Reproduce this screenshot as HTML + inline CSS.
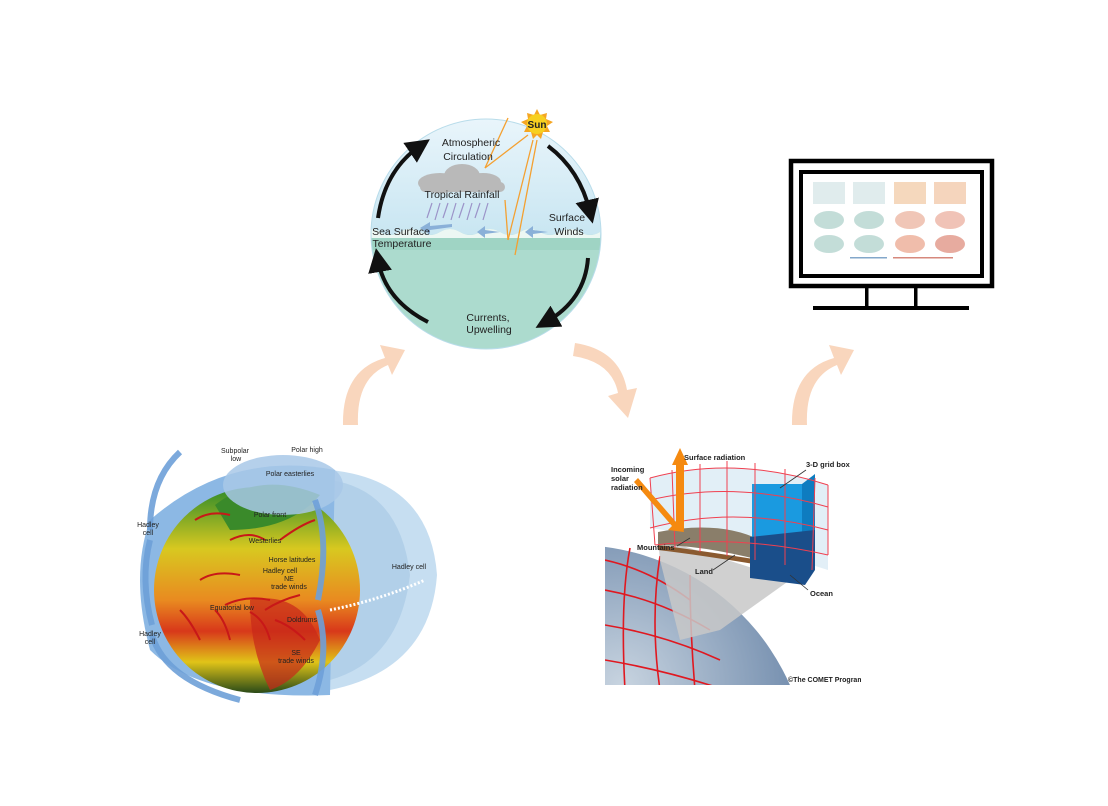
<!DOCTYPE html>
<html><head><meta charset="utf-8"><style>
html,body{margin:0;padding:0;background:#fff;overflow:hidden;width:1108px;height:806px;}
svg{display:block;font-family:"Liberation Sans",sans-serif;}
</style></head><body>
<svg width="1108" height="806" viewBox="0 0 1108 806" xmlns="http://www.w3.org/2000/svg">
<defs>
<linearGradient id="sky" x1="0" y1="0" x2="0" y2="1">
<stop offset="0" stop-color="#e9f5fb"/><stop offset="0.5" stop-color="#c9e6f2"/>
<stop offset="0.52" stop-color="#a8d8cc"/><stop offset="1" stop-color="#d2ece9"/></linearGradient>
<linearGradient id="gl" x1="0" y1="0" x2="0" y2="1">
<stop offset="0" stop-color="#2d8a2a"/><stop offset="0.3" stop-color="#d8c820"/><stop offset="0.55" stop-color="#e98a20"/><stop offset="0.7" stop-color="#d8381a"/><stop offset="0.85" stop-color="#e0c418"/><stop offset="1" stop-color="#2a4a18"/></linearGradient>
<radialGradient id="earth" cx="0.6" cy="0.3" r="0.8">
<stop offset="0" stop-color="#c8d4e0"/><stop offset="0.6" stop-color="#5c7aa0"/><stop offset="1" stop-color="#1a3a8a"/></radialGradient>
<marker id="ah" markerWidth="6" markerHeight="6" refX="3" refY="3" orient="auto"><path d="M0,0L6,3L0,6z" fill="#111"/></marker>
<clipPath id="circ"><circle cx="486" cy="234" r="115"/></clipPath>
<clipPath id="rimg"><rect x="605" y="445" width="256" height="240"/></clipPath>
</defs>

<g fill="#f9d6bd">
<path d="M343,425 Q342,370 385,358 L380,345 L405,350 L392,375 L388,365 Q356,378 358,425 Z"/>
<path d="M575,343 Q620,350 627,390 L637,388 L628,418 L608,396 L618,393 Q612,362 573,356 Z"/>
<path d="M792,425 Q791,370 834,358 L829,345 L854,350 L841,375 L837,365 Q805,378 807,425 Z"/>
</g>

<circle cx="486" cy="234" r="115" fill="url(#sky)"/>
<g clip-path="url(#circ)">
<path d="M360,232 q10,-6 20,0 q10,6 20,0 q10,-6 20,0 q10,6 20,0 q10,-6 20,0 q10,6 20,0 q10,-6 20,0 q10,6 20,0 q10,-6 20,0 q10,6 20,0 q10,-6 20,0 q10,6 20,0 V360 H360Z" fill="#9fd4c4"/>
<path d="M360,232 q10,-6 20,0 q10,6 20,0 q10,-6 20,0 q10,6 20,0 q10,-6 20,0 q10,6 20,0 q10,-6 20,0 q10,6 20,0 q10,-6 20,0 q10,6 20,0 q10,-6 20,0 q10,6 20,0 V238 H360Z" fill="#fff" opacity="0.8"/>
<rect x="360" y="250" width="260" height="110" fill="#b5e0d6" opacity="0.6"/>
</g>
<circle cx="486" cy="234" r="115" fill="none" stroke="#b8dcea" stroke-width="1"/>
<g fill="#b9b9b9"><ellipse cx="440" cy="183" rx="22" ry="10"/><ellipse cx="462" cy="176" rx="18" ry="12"/><ellipse cx="483" cy="182" rx="18" ry="9"/><rect x="420" y="182" width="85" height="10" rx="5"/></g>
<g stroke="#9b93c8" stroke-width="1.2">
<line x1="427" y1="218" x2="432" y2="203"/><line x1="435" y1="220" x2="440" y2="203"/><line x1="443" y1="218" x2="448" y2="203"/><line x1="451" y1="220" x2="456" y2="203"/><line x1="459" y1="218" x2="464" y2="203"/><line x1="467" y1="220" x2="472" y2="203"/><line x1="475" y1="218" x2="480" y2="203"/><line x1="483" y1="220" x2="488" y2="203"/></g>
<g fill="#8ab0d8"><path d="M420,229 l22,-3 v-4 l10,6 -10,6 v-4 l-22,2z" transform="rotate(180 436 228)"/><path d="M480,232 l15,-2 v-4 l8,6 -8,6 v-4 z" transform="rotate(180 490 232)"/><path d="M528,232 l15,-2 v-4 l8,6 -8,6 v-4 z" transform="rotate(180 538 232)"/></g>
<g stroke="#f4a030" stroke-width="1.3" fill="none">
<line x1="528" y1="135" x2="485" y2="168"/><line x1="485" y1="168" x2="508" y2="118"/>
<line x1="533" y1="140" x2="508" y2="240"/><line x1="508" y1="240" x2="505" y2="200"/>
<line x1="537" y1="140" x2="515" y2="255"/></g>
<g fill="#f5a623"><polygon points="537,109 540,115 547,113 546,119 553,122 547,126 550,132 543,132 541,139 537,135 533,139 531,132 524,132 527,126 521,122 528,119 527,113 534,115"/></g>
<circle cx="537" cy="124" r="10" fill="#f7d020"/>
<text x="537" y="128" font-size="10" font-weight="bold" text-anchor="middle" fill="#222">Sun</text>
<g stroke="#111" stroke-width="4" fill="none" marker-end="url(#ah)">
<path d="M378,218 Q385,170 420,146"/>
<path d="M548,146 Q580,170 590,212"/>
<path d="M588,258 Q585,300 546,322"/>
<path d="M428,322 Q385,300 378,260"/></g>
<g font-size="10.5" fill="#222" text-anchor="middle">
<text x="471" y="146">Atmospheric</text><text x="468" y="160">Circulation</text>
<text x="462" y="198">Tropical Rainfall</text>
<text x="567" y="221">Surface</text><text x="569" y="235">Winds</text>
<text x="401" y="235">Sea Surface</text><text x="402" y="247">Temperature</text>
<text x="488" y="321">Currents,</text><text x="489" y="333">Upwelling</text></g>

<rect x="791" y="161" width="201" height="125" fill="none" stroke="#000" stroke-width="4.5"/>
<rect x="801" y="172" width="181" height="104" fill="#fff" stroke="#000" stroke-width="4"/>
<g opacity="0.75">
<rect x="813" y="182" width="32" height="22" fill="#d6e6e8"/><rect x="853" y="182" width="32" height="22" fill="#d6e6e8"/>
<rect x="894" y="182" width="32" height="22" fill="#f2cca8"/><rect x="934" y="182" width="32" height="22" fill="#f2c8a8"/>
<ellipse cx="829" cy="220" rx="15" ry="9" fill="#b0d2cc"/><ellipse cx="869" cy="220" rx="15" ry="9" fill="#b0d2cc"/>
<ellipse cx="910" cy="220" rx="15" ry="9" fill="#ecb4a0"/><ellipse cx="950" cy="220" rx="15" ry="9" fill="#ecb0a0"/>
<ellipse cx="829" cy="244" rx="15" ry="9" fill="#b0d2cc"/><ellipse cx="869" cy="244" rx="15" ry="9" fill="#b0d2cc"/>
<ellipse cx="910" cy="244" rx="15" ry="9" fill="#eca890"/><ellipse cx="950" cy="244" rx="15" ry="9" fill="#e09080"/>
<rect x="850" y="257" width="37" height="1.5" fill="#5a8ab8"/><rect x="893" y="257" width="60" height="1.5" fill="#c86050"/></g>
<rect x="865" y="286" width="3.5" height="22" fill="#000"/><rect x="914" y="286" width="3.5" height="22" fill="#000"/>
<rect x="813" y="306" width="156" height="4" fill="#000"/>

<g>
<path d="M330,470 Q430,480 437,575 Q430,670 330,690 Z" fill="#bcd8ee" opacity="0.85"/>
<path d="M330,480 Q400,490 410,575 Q400,660 330,680Z" fill="#a9cae6" opacity="0.7"/>
<path d="M150,520 Q130,575 150,650 Q200,700 330,695 L335,470 Q230,450 150,520Z" fill="#8cb8e4"/>
<circle cx="257" cy="590" r="103" fill="url(#gl)"/>
<path d="M215,505 Q260,470 320,495 Q290,530 230,530Z" fill="#3a8a2a"/>
<path d="M250,600 Q300,590 320,640 Q300,680 270,690 Q250,650 250,600Z" fill="#c8281a" opacity="0.7"/>
<ellipse cx="283" cy="485" rx="60" ry="30" fill="#a8c8e8" opacity="0.85"/>
<g fill="none" stroke="#6ea0d8" stroke-width="6" opacity="0.9">
<path d="M180,452 Q150,480 150,530"/><path d="M150,540 Q140,580 152,625"/><path d="M152,635 Q165,680 240,700"/>
<path d="M315,500 Q330,540 318,600"/><path d="M318,610 Q330,650 315,695"/></g>
<g stroke="#c81818" stroke-width="2" fill="none">
<path d="M195,520 Q210,510 230,515"/><path d="M230,540 Q250,530 265,540"/><path d="M280,540 Q300,525 315,520"/>
<path d="M240,575 Q215,570 200,580"/><path d="M270,600 Q245,595 225,605"/><path d="M300,595 Q280,600 265,610"/>
<path d="M200,640 Q190,620 180,610"/><path d="M230,640 Q225,620 215,610"/><path d="M270,640 Q265,620 250,612"/><path d="M305,640 Q290,625 275,620"/></g>
<path d="M330,610 Q380,600 425,580" stroke="#fff" stroke-width="3" stroke-dasharray="2 2" fill="none"/>
<g font-size="7" fill="#222" text-anchor="middle">
<text x="235" y="453">Subpolar</text><text x="236" y="461">low</text><text x="307" y="452">Polar high</text>
<text x="290" y="476">Polar easterlies</text><text x="148" y="527">Hadley</text><text x="148" y="535">cell</text>
<text x="270" y="517">Polar front</text><text x="265" y="543">Westerlies</text><text x="292" y="562">Horse latitudes</text>
<text x="280" y="573">Hadley cell</text><text x="289" y="581">NE</text><text x="289" y="589">trade winds</text>
<text x="232" y="610">Equatorial low</text><text x="302" y="622">Doldrums</text>
<text x="150" y="636">Hadley</text><text x="150" y="644">cell</text><text x="409" y="569">Hadley cell</text>
<text x="296" y="655">SE</text><text x="296" y="663">trade winds</text></g>
</g>

<g clip-path="url(#rimg)">
<circle cx="575" cy="780" r="235" fill="url(#earth)"/>
<g stroke="#e01820" stroke-width="1.6" fill="none">
<path d="M605,560 Q650,570 690,600"/><path d="M605,590 Q660,600 710,630"/><path d="M605,625 Q665,635 720,660"/><path d="M605,660 Q665,670 725,690"/>
<path d="M630,548 Q620,600 625,690"/><path d="M660,556 Q650,620 660,690"/><path d="M690,575 Q690,630 695,690"/></g>
<polygon points="658,538 790,580 720,630 680,640 660,560" fill="#c8c8c8" opacity="0.85"/>
<path d="M650,478 Q735,455 828,485 L828,570 Q735,540 650,528Z" fill="#cfe4f2" opacity="0.6"/>
<path d="M658,532 Q720,520 760,540 L760,560 Q700,545 658,545Z" fill="#8a7e6a"/>
<path d="M658,545 Q710,552 760,560 L760,565 Q700,555 658,550Z" fill="#8a5a30"/>
<rect x="752" y="484" width="50" height="55" fill="#1a9ae0"/>
<polygon points="802,484 815,474 815,530 802,539" fill="#0e7cc0"/>
<polygon points="750,537 815,530 815,570 805,585 750,578" fill="#1a4e8a"/>
<g stroke="#f04050" stroke-width="1" fill="none">
<path d="M650,478 Q735,455 828,485"/><path d="M650,500 Q735,480 828,507"/><path d="M650,528 Q735,505 828,530"/><path d="M655,545 Q740,535 828,555"/>
<line x1="650" y1="478" x2="655" y2="545"/><line x1="672" y1="470" x2="675" y2="548"/><line x1="700" y1="464" x2="700" y2="552"/><line x1="727" y1="461" x2="727" y2="556"/><line x1="755" y1="463" x2="755" y2="560"/><line x1="785" y1="469" x2="785" y2="565"/><line x1="815" y1="478" x2="812" y2="570"/><line x1="828" y1="485" x2="828" y2="555"/></g>
<polygon points="676,530 676,465 672,465 680,448 688,465 684,465 684,530" fill="#f58a10"/>
<polygon points="638,478 676,522 680,516 684,532 668,530 672,526 634,482" fill="#f58a10"/>
<g font-size="7.5" font-weight="bold" fill="#222">
<text x="684" y="460">Surface radiation</text><text x="806" y="467">3-D grid box</text>
<text x="611" y="472">Incoming</text><text x="611" y="481">solar</text><text x="611" y="490">radiation</text>
<text x="637" y="550">Mountains</text><text x="695" y="574">Land</text><text x="810" y="596">Ocean</text>
<text x="788" y="682" font-size="7">©The COMET Program</text></g>
<g stroke="#333" stroke-width="0.8"><line x1="677" y1="546" x2="690" y2="538"/><line x1="713" y1="570" x2="735" y2="555"/><line x1="806" y1="470" x2="780" y2="488"/><line x1="808" y1="590" x2="790" y2="575"/></g>
</g>
</svg>
</body></html>
